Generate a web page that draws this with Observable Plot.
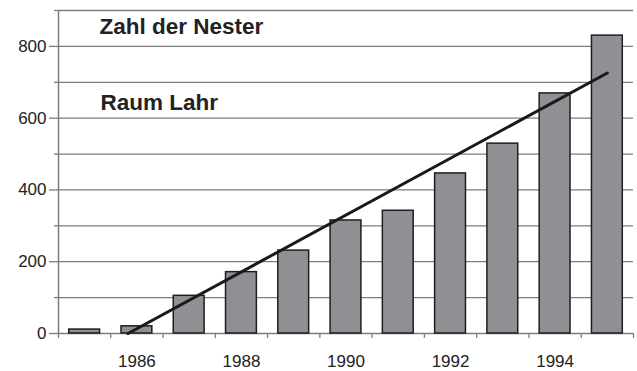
<!DOCTYPE html>
<html><head><meta charset="utf-8">
<script src="https://cdn.jsdelivr.net/npm/d3@7"></script>
<script src="https://cdn.jsdelivr.net/npm/@observablehq/plot@0.6"></script>
<style>
html,body{margin:0;padding:0;background:#fff;}
svg{display:block;font-family:"Liberation Sans",Arial,sans-serif;}
</style></head><body>
<div id="chart"></div>
<script>
const years = [1985,1986,1987,1988,1989,1990,1991,1992,1993,1994,1995];
const nests = [11,20,105,171,231,315,342,446,529,669,830];
const trendYears = [1985.83,1995];
const trendValues = [0,726];
const yTicksMajor = [0,200,400,600,800];
const yTicksMinor = [100,300,500,700,900];
const xTickLabels = [1986,1988,1990,1992,1994];
const titleLine1 = "Zahl der Nester";
const titleLine2 = "Raum Lahr";

const bars = years.map((y,i)=>({year:y, n:nests[i]}));
const trend = trendYears.map((y,i)=>({year:y, n:trendValues[i]}));
const xBounds = years.map(y=>y-0.5).concat([years[years.length-1]+0.5]);
const gridVals = yTicksMajor.concat(yTicksMinor);
const halfBar = 0.295;

const chart = Plot.plot({
  width: 637, height: 371,
  marginLeft: 58, marginRight: 4, marginTop: 10, marginBottom: 38,
  style: {fontFamily: '"Liberation Sans",Arial,sans-serif', background: "#fff"},
  x: {type: "linear", domain: [xBounds[0], xBounds[xBounds.length-1]], axis: null},
  y: {domain: [0, 900], axis: null},
  marks: [
    Plot.ruleY(gridVals, {stroke: "#7d7d7d", strokeWidth: 1.3}),
    Plot.axisY(yTicksMajor, {label: null, tickSize: 9, tickPadding: 3, stroke: "#7d7d7d", strokeWidth: 1.3, fontSize: 17, fill: "#222", tickFormat: d => String(d)}),
    Plot.axisY(yTicksMinor, {label: null, tickSize: 4, stroke: "#7d7d7d", strokeWidth: 1.3, tickFormat: () => ""}),
    Plot.ruleX([xBounds[0]], {y1: 0, y2: 900, stroke: "#7d7d7d", strokeWidth: 1.5}),
    Plot.axisX(xBounds, {label: null, tickSize: 5, stroke: "#7d7d7d", strokeWidth: 1.3, tickFormat: () => ""}),
    Plot.axisX(xTickLabels, {label: null, tickSize: 0, tickPadding: 21, fontSize: 17, fill: "#222", tickFormat: d => String(d)}),
    Plot.rectY(bars, {x1: d => d.year - halfBar, x2: d => d.year + halfBar, y1: 0, y2: "n", fill: "#8f9094", stroke: "#1e1e1e", strokeWidth: 1.5}),
    Plot.line(trend, {x: "year", y: "n", stroke: "#1a1a1a", strokeWidth: 3}),
    Plot.text([titleLine1], {frameAnchor: "top-left", dx: 41, dy: 8, fontSize: 22.5, fontWeight: "bold", fill: "#222"}),
    Plot.text([titleLine2], {frameAnchor: "top-left", dx: 42, dy: 84, fontSize: 22.5, fontWeight: "bold", fill: "#222"})
  ]
});
document.getElementById("chart").appendChild(chart);
</script>
</body></html>
